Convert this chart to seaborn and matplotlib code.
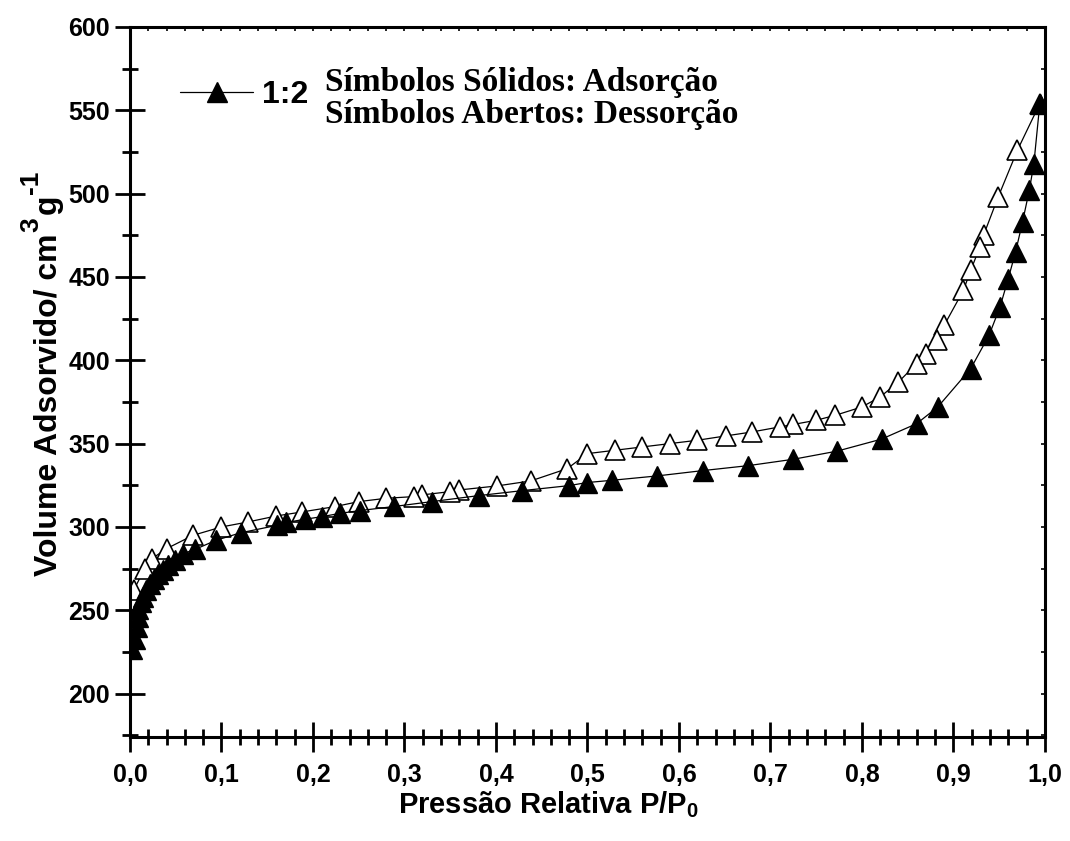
import matplotlib
matplotlib.use("Agg")
import matplotlib.pyplot as plt
import seaborn as sns
import pandas as pd
from matplotlib.ticker import MultipleLocator, FuncFormatter

# Nitrogen isotherm, sample 1:2
p_ads = [0.0025, 0.0055, 0.0073, 0.0084, 0.009, 0.012, 0.0145, 0.018, 0.022,
         0.0266, 0.031, 0.036, 0.042, 0.049, 0.058, 0.071, 0.094, 0.121, 0.161,
         0.171, 0.191, 0.210, 0.230, 0.251, 0.289, 0.330, 0.381, 0.429, 0.480,
         0.499, 0.527, 0.576, 0.626, 0.676, 0.725, 0.773, 0.8215, 0.860, 0.883,
         0.919, 0.939, 0.951, 0.960, 0.968, 0.9756, 0.983, 0.988, 0.9945]
v_ads = [227, 233, 240, 246, 250.5, 255, 258, 262, 266,
         269, 272, 274, 277, 280, 284, 286.5, 292, 296.5, 301,
         302.7, 304.6, 306.2, 308.2, 309.8, 312.3, 315.2, 318.8, 321.8, 324.8,
         326.6, 328, 330.6, 333.8, 336.8, 340.6, 345.5, 352.7, 362, 372,
         395, 415, 432, 449, 465, 483, 502, 518, 554]

p_des = [0.9945, 0.970, 0.949, 0.933, 0.929, 0.919, 0.911, 0.890, 0.882, 0.870,
         0.860, 0.840, 0.820, 0.800, 0.771, 0.750, 0.725, 0.710, 0.680, 0.651,
         0.620, 0.590, 0.560, 0.530, 0.500, 0.478, 0.438, 0.401, 0.360, 0.350,
         0.319, 0.310, 0.280, 0.250, 0.224, 0.188, 0.160, 0.129, 0.100, 0.069,
         0.040, 0.024, 0.016, 0.004]
v_des = [554, 526, 498, 475, 468, 454, 442, 421, 412, 404,
         398, 387, 378, 372, 367, 364, 361.5, 360, 357, 354.6,
         352, 350, 348, 346, 344, 335, 327.6, 324.6, 322.2, 321.2,
         319.2, 318.2, 317.2, 315.2, 312.2, 309, 306.6, 303, 300, 295,
         287, 281, 275, 262]

x_ticks = [0.0, 0.1, 0.2, 0.3, 0.4, 0.5, 0.6, 0.7, 0.8, 0.9, 1.0]
y_ticks = [200, 250, 300, 350, 400, 450, 500, 550, 600]

sns.set_style("ticks")
plt.rcParams["font.family"] = ["Liberation Sans", "DejaVu Sans"]
plt.rcParams["font.weight"] = "bold"
plt.rcParams["text.color"] = "black"
plt.rcParams["axes.labelcolor"] = "black"
plt.rcParams["mathtext.fontset"] = "custom"
plt.rcParams["mathtext.rm"] = "Liberation Sans:bold"
plt.rcParams["mathtext.it"] = "Liberation Sans:bold"
plt.rcParams["mathtext.bf"] = "Liberation Sans:bold"
plt.rcParams["mathtext.default"] = "rm"

fig = plt.figure(figsize=(10.70, 8.41), dpi=100)
ax = fig.add_axes([0.1215, 0.1237, 0.855, 0.8443])

ads = pd.DataFrame({"p": p_ads, "v": v_ads})
des = pd.DataFrame({"p": p_des, "v": v_des})

sns.lineplot(data=des, x="p", y="v", sort=False, estimator=None, ax=ax,
             color="black", linewidth=0.9, marker="^", markersize=14,
             markerfacecolor="white", markeredgecolor="black",
             markeredgewidth=1.2, zorder=2)
sns.lineplot(data=ads, x="p", y="v", sort=False, estimator=None, ax=ax,
             color="black", linewidth=0.9, marker="^", markersize=14,
             markerfacecolor="black", markeredgecolor="black",
             markeredgewidth=1.0, zorder=3, label="1:2")

ax.set_xlim(0.0, 1.0)
ax.set_ylim(174, 600)
ax.set_xticks(x_ticks)
ax.set_yticks(y_ticks)
ax.xaxis.set_minor_locator(MultipleLocator(0.02))
ax.yaxis.set_minor_locator(MultipleLocator(25))
ax.xaxis.set_major_formatter(FuncFormatter(lambda v, _: f"{v:.1f}".replace(".", ",")))
ax.yaxis.set_major_formatter(FuncFormatter(lambda v, _: f"{int(v)}"))

for side in ax.spines.values():
    side.set_linewidth(2.2)
    side.set_color("black")

ax.tick_params(axis="both", which="major", direction="inout", length=21,
               width=2.0, labelsize=18, colors="black")
ax.tick_params(axis="both", which="minor", direction="inout", length=11,
               width=2.0, colors="black")
ax.tick_params(axis="x", which="major", pad=8)
ax.tick_params(axis="y", which="major", pad=4)
for lab in ax.get_xticklabels() + ax.get_yticklabels():
    lab.set_fontweight("bold")

# small inward ticks on the top and right frame
top = ax.secondary_xaxis("top")
top.xaxis.set_major_locator(MultipleLocator(0.02))
top.tick_params(direction="in", length=3, width=1.2, labeltop=False,
                colors="black")
top.spines["top"].set_visible(False)
right = ax.secondary_yaxis("right")
right.yaxis.set_major_locator(MultipleLocator(25))
right.tick_params(direction="in", length=3, width=1.2, labelright=False,
                  colors="black")
right.spines["right"].set_visible(False)

# axis titles
ax.set_xlabel("Pressão Relativa P/P$_0$", fontsize=21, fontweight="bold",
              color="black")
ax.xaxis.set_label_coords(0.457, -0.074)

ylab = ax.set_ylabel("Volume Adsorvido/ cm", fontsize=23,
                     fontweight="bold", color="black")
ax.yaxis.set_label_coords(-0.0732, 0.468)
sup3 = ax.annotate("3", xy=(0, 1), xycoords=ylab, xytext=(-10, 1),
                   textcoords="offset points", rotation=90, ha="left",
                   va="bottom", fontsize=19, fontweight="bold")
gtxt = ax.annotate("g", xy=(0, 1), xycoords=(ylab, sup3), xytext=(0, 2),
                   textcoords="offset points", rotation=90, ha="left",
                   va="bottom", fontsize=23, fontweight="bold")
ax.annotate("-1", xy=(0, 1), xycoords=(sup3, gtxt), xytext=(0, 1),
            textcoords="offset points", rotation=90, ha="left",
            va="bottom", fontsize=19, fontweight="bold")

ax.legend(loc="center left", bbox_to_anchor=(0.0546, 0.904), frameon=False,
          borderaxespad=0, borderpad=0, handlelength=2.3, handletextpad=0.28,
          prop={"family": "Liberation Sans", "weight": "bold", "size": 23})

ax.text(0.213, 0.9099, "Símbolos Sólidos: Adsorção", transform=ax.transAxes,
        ha="left", va="baseline", fontsize=24, fontweight="bold",
        family="Liberation Serif")
ax.text(0.213, 0.8648, "Símbolos Abertos: Dessorção", transform=ax.transAxes,
        ha="left", va="baseline", fontsize=24, fontweight="bold",
        family="Liberation Serif")

fig.savefig("out.png", dpi=100, facecolor="white")
